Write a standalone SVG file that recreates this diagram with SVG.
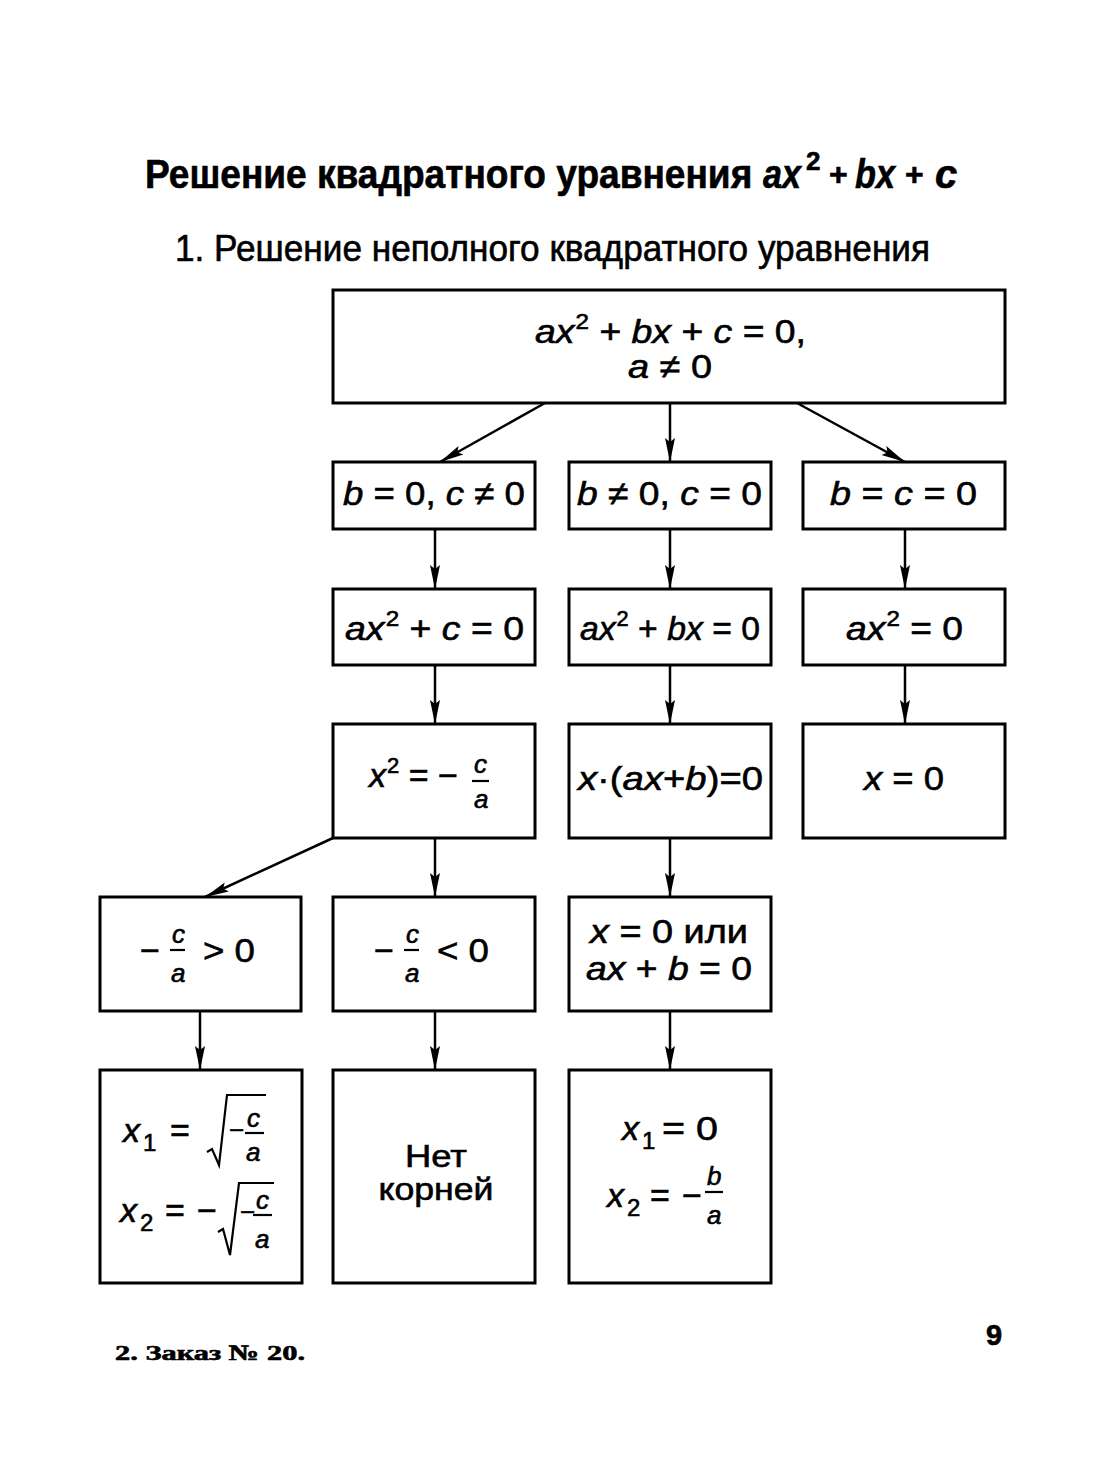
<svg xmlns="http://www.w3.org/2000/svg" width="1113" height="1460" viewBox="0 0 1113 1460">
<style>
text { font-family: "Liberation Sans", Arial, sans-serif; fill: #000; stroke: #000; stroke-width: 0.6; }
.m { font-size: 34px; }
.s { font-size: 26px; }
.sub { font-size: 24px; }
.i { font-style: italic; }
.tb { font-size: 40px; font-weight: bold; }
.box { fill: #fff; stroke: #000; stroke-width: 3; }
.conn line { stroke: #000; stroke-width: 2.5; marker-end: url(#ah); }
.bar { stroke: #000; stroke-width: 2.2; }
.rad { fill: none; stroke: #000; stroke-width: 2.2; }
</style>
<defs>
<marker id="ah" markerUnits="userSpaceOnUse" markerWidth="24" markerHeight="12" refX="24" refY="6" orient="auto">
<path d="M0,1 L24,6 L0,11 L4,6 z" fill="#000"/>
</marker>
</defs>
<rect width="1113" height="1460" fill="#fff"/>

<g id="title">
<text class="tb" transform="translate(145,188) scale(0.87,1)" x="0" y="0" textLength="698" lengthAdjust="spacingAndGlyphs">Решение квадратного уравнения</text>
<text class="tb i" x="763" y="188" textLength="38" lengthAdjust="spacingAndGlyphs">ax</text>
<text x="806" y="170" font-size="26" font-weight="bold">2</text>
<text x="829" y="185" font-size="32" font-weight="bold">+</text>
<text class="tb i" x="855" y="188" textLength="40" lengthAdjust="spacingAndGlyphs">bx</text>
<text x="905" y="185" font-size="32" font-weight="bold">+</text>
<text class="tb i" x="935" y="188">c</text>
</g>
<text x="175" y="261" font-size="37" textLength="755" lengthAdjust="spacingAndGlyphs">1. Решение неполного квадратного уравнения</text>

<g class="conn">
<line x1="545" y1="403" x2="440" y2="462"/>
<line x1="670" y1="403" x2="670" y2="462"/>
<line x1="797" y1="403" x2="905" y2="462"/>
<line x1="435" y1="529" x2="435" y2="589"/>
<line x1="670" y1="529" x2="670" y2="589"/>
<line x1="905" y1="529" x2="905" y2="589"/>
<line x1="435" y1="665" x2="435" y2="724"/>
<line x1="670" y1="665" x2="670" y2="724"/>
<line x1="905" y1="665" x2="905" y2="724"/>
<line x1="333" y1="838" x2="205" y2="897"/>
<line x1="435" y1="838" x2="435" y2="897"/>
<line x1="670" y1="838" x2="670" y2="897"/>
<line x1="200" y1="1011" x2="200" y2="1070"/>
<line x1="435" y1="1011" x2="435" y2="1070"/>
<line x1="670" y1="1011" x2="670" y2="1070"/>
</g>

<g id="top">
<rect class="box" x="333" y="290" width="672" height="113"/>
<text class="m" x="535" y="343" textLength="271" lengthAdjust="spacingAndGlyphs"><tspan class="i">ax</tspan><tspan font-size="22" dy="-14" dx="1">2</tspan><tspan dy="14"> + </tspan><tspan class="i">bx</tspan> + <tspan class="i">c</tspan> = 0,</text>
<text class="m" x="628" y="378" textLength="84" lengthAdjust="spacingAndGlyphs"><tspan class="i">a</tspan> ≠ 0</text>
</g>

<g id="r1c0">
<rect class="box" x="333" y="462" width="202" height="67"/>
<text class="m" x="343" y="505" textLength="182" lengthAdjust="spacingAndGlyphs"><tspan class="i">b</tspan> = 0, <tspan class="i">c</tspan> ≠ 0</text>
</g>
<g id="r1c1">
<rect class="box" x="569" y="462" width="202" height="67"/>
<text class="m" x="577" y="505" textLength="185" lengthAdjust="spacingAndGlyphs"><tspan class="i">b</tspan> ≠ 0, <tspan class="i">c</tspan> = 0</text>
</g>
<g id="r1c2">
<rect class="box" x="803" y="462" width="202" height="67"/>
<text class="m" x="830" y="505" textLength="147" lengthAdjust="spacingAndGlyphs"><tspan class="i">b</tspan> = <tspan class="i">c</tspan> = 0</text>
</g>

<g id="r2c0">
<rect class="box" x="333" y="589" width="202" height="76"/>
<text class="m" x="345" y="640" textLength="179" lengthAdjust="spacingAndGlyphs"><tspan class="i">ax</tspan><tspan font-size="22" dy="-14" dx="1">2</tspan><tspan dy="14"> + </tspan><tspan class="i">c</tspan> = 0</text>
</g>
<g id="r2c1">
<rect class="box" x="569" y="589" width="202" height="76"/>
<text class="m" x="580" y="640" textLength="180" lengthAdjust="spacingAndGlyphs"><tspan class="i">ax</tspan><tspan font-size="22" dy="-14" dx="1">2</tspan><tspan dy="14"> + </tspan><tspan class="i">bx</tspan> = 0</text>
</g>
<g id="r2c2">
<rect class="box" x="803" y="589" width="202" height="76"/>
<text class="m" x="846" y="640" textLength="117" lengthAdjust="spacingAndGlyphs"><tspan class="i">ax</tspan><tspan font-size="22" dy="-14" dx="1">2</tspan><tspan dy="14"> = 0</tspan></text>
</g>

<g id="r3c0">
<rect class="box" x="333" y="724" width="202" height="114"/>
<text class="m" x="369" y="787" textLength="89" lengthAdjust="spacingAndGlyphs"><tspan class="i">x</tspan><tspan font-size="22" dy="-14" dx="1">2</tspan><tspan dy="14"> = −</tspan></text>
<text class="s i" x="474" y="773">c</text>
<line class="bar" x1="472" y1="781" x2="489" y2="781"/>
<text class="s i" x="474" y="808">a</text>
</g>
<g id="r3c1">
<rect class="box" x="569" y="724" width="202" height="114"/>
<text class="m" x="578" y="790" textLength="185" lengthAdjust="spacingAndGlyphs"><tspan class="i">x</tspan>·(<tspan class="i">ax</tspan>+<tspan class="i">b</tspan>)=0</text>
</g>
<g id="r3c2">
<rect class="box" x="803" y="724" width="202" height="114"/>
<text class="m" x="864" y="790" textLength="80" lengthAdjust="spacingAndGlyphs"><tspan class="i">x</tspan> = 0</text>
</g>

<g id="r4c0">
<rect class="box" x="100" y="897" width="201" height="114"/>
<text class="m" x="140" y="962">−</text>
<text class="s i" x="172" y="943">c</text>
<line class="bar" x1="170" y1="950" x2="185" y2="950"/>
<text class="s i" x="171" y="982">a</text>
<text class="m" x="203" y="962" textLength="52" lengthAdjust="spacingAndGlyphs">&gt; 0</text>
</g>
<g id="r4c1">
<rect class="box" x="333" y="897" width="202" height="114"/>
<text class="m" x="374" y="962">−</text>
<text class="s i" x="406" y="943">c</text>
<line class="bar" x1="404" y1="950" x2="419" y2="950"/>
<text class="s i" x="405" y="982">a</text>
<text class="m" x="437" y="962" textLength="52" lengthAdjust="spacingAndGlyphs">&lt; 0</text>
</g>
<g id="r4c2">
<rect class="box" x="569" y="897" width="202" height="114"/>
<text class="m" x="590" y="943" textLength="158" lengthAdjust="spacingAndGlyphs"><tspan class="i">x</tspan> = 0 или</text>
<text class="m" x="586" y="980" textLength="166" lengthAdjust="spacingAndGlyphs"><tspan class="i">ax</tspan> + <tspan class="i">b</tspan> = 0</text>
</g>

<g id="r5c0">
<rect class="box" x="100" y="1070" width="202" height="213"/>
<text class="m i" x="123" y="1142">x</text>
<text class="sub" x="143" y="1151">1</text>
<text class="m" x="170" y="1142">=</text>
<path class="rad" d="M207,1152 L212,1149 L219,1165 L227,1095 L266,1095"/>
<text class="s" x="229" y="1139">−</text>
<text class="s i" x="247" y="1127">c</text>
<line class="bar" x1="245" y1="1133" x2="264" y2="1133"/>
<text class="s i" x="246" y="1161">a</text>
<text class="m i" x="120" y="1222">x</text>
<text class="sub" x="140" y="1231">2</text>
<text class="m" x="165" y="1222">=</text>
<text class="m" x="197" y="1222">−</text>
<path class="rad" d="M218,1232 L223,1229 L230,1255 L239,1183 L274,1183"/>
<text class="s" x="240" y="1221">−</text>
<text class="s i" x="256" y="1209">c</text>
<line class="bar" x1="253" y1="1215" x2="272" y2="1215"/>
<text class="s i" x="255" y="1248">a</text>
</g>
<g id="r5c1">
<rect class="box" x="333" y="1070" width="202" height="213"/>
<text x="436" y="1167" font-size="32" text-anchor="middle" textLength="62" lengthAdjust="spacingAndGlyphs">Нет</text>
<text x="436" y="1200" font-size="32" text-anchor="middle" textLength="115" lengthAdjust="spacingAndGlyphs">корней</text>
</g>
<g id="r5c2">
<rect class="box" x="569" y="1070" width="202" height="213"/>
<text class="m i" x="622" y="1140">x</text>
<text class="sub" x="642" y="1149">1</text>
<text class="m" x="662" y="1140" textLength="56" lengthAdjust="spacingAndGlyphs">= 0</text>
<text class="m i" x="607" y="1207">x</text>
<text class="sub" x="627" y="1216">2</text>
<text class="m" x="650" y="1207">=</text>
<text class="m" x="682" y="1207">−</text>
<text class="s i" x="707" y="1185">b</text>
<line class="bar" x1="705" y1="1192" x2="723" y2="1192"/>
<text class="s i" x="707" y="1224">a</text>
</g>

<text x="115" y="1360" font-size="22" font-weight="bold" textLength="190" lengthAdjust="spacingAndGlyphs" style="font-family:'Liberation Serif',serif">2. Заказ № 20.</text>
<text x="986" y="1345" font-size="29" font-weight="bold">9</text>
</svg>
